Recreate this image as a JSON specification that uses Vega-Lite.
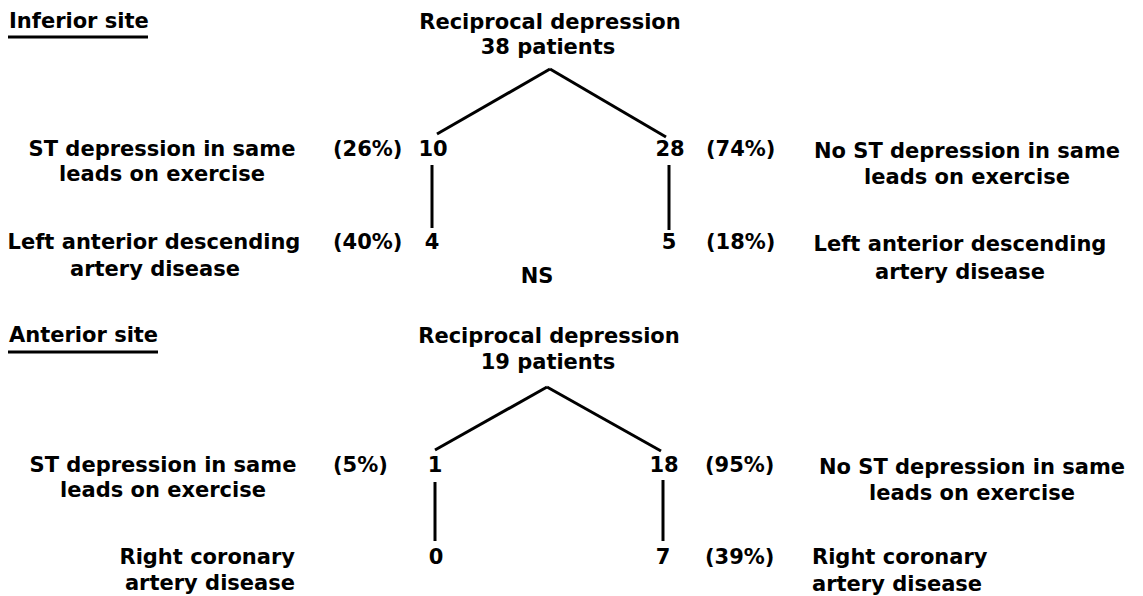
{
  "$schema": "https://vega.github.io/schema/vega-lite/v6.json",
  "width": 1143,
  "height": 596,
  "padding": 0,
  "autosize": {"type": "fit", "contains": "padding"},
  "background": "white",
  "config": {"view": {"stroke": null}, "text": {"font": "DejaVu Sans", "fontWeight": "bold", "fontSize": 21, "color": "black", "baseline": "middle"}},
  "datasets": {
    "labels": [
      {"label": "Inferior site", "x": 9, "y": 22, "anchor": "left"},
      {"label": "Reciprocal depression", "x": 550, "y": 23, "anchor": "center"},
      {"label": "38 patients", "x": 548, "y": 48, "anchor": "center"},
      {"label": "ST depression in same", "x": 162, "y": 150, "anchor": "center"},
      {"label": "leads on exercise", "x": 162, "y": 175, "anchor": "center"},
      {"label": "(26%)", "x": 333, "y": 150, "anchor": "left"},
      {"label": "10", "x": 433, "y": 150, "anchor": "center"},
      {"label": "28", "x": 670, "y": 150, "anchor": "center"},
      {"label": "(74%)", "x": 706, "y": 150, "anchor": "left"},
      {"label": "No ST depression in same", "x": 967, "y": 152, "anchor": "center"},
      {"label": "leads on exercise", "x": 967, "y": 178, "anchor": "center"},
      {"label": "Left anterior descending", "x": 154, "y": 243, "anchor": "center"},
      {"label": "artery disease", "x": 155, "y": 270, "anchor": "center"},
      {"label": "(40%)", "x": 333, "y": 243, "anchor": "left"},
      {"label": "4", "x": 432, "y": 243, "anchor": "center"},
      {"label": "5", "x": 669, "y": 243, "anchor": "center"},
      {"label": "(18%)", "x": 706, "y": 243, "anchor": "left"},
      {"label": "Left anterior descending", "x": 960, "y": 245, "anchor": "center"},
      {"label": "artery disease", "x": 960, "y": 273, "anchor": "center"},
      {"label": "NS", "x": 537, "y": 277, "anchor": "center"},
      {"label": "Anterior site", "x": 9, "y": 336, "anchor": "left"},
      {"label": "Reciprocal depression", "x": 549, "y": 337, "anchor": "center"},
      {"label": "19 patients", "x": 548, "y": 363, "anchor": "center"},
      {"label": "ST depression in same", "x": 163, "y": 466, "anchor": "center"},
      {"label": "leads on exercise", "x": 163, "y": 491, "anchor": "center"},
      {"label": "(5%)", "x": 333, "y": 466, "anchor": "left"},
      {"label": "1", "x": 435, "y": 466, "anchor": "center"},
      {"label": "18", "x": 664, "y": 466, "anchor": "center"},
      {"label": "(95%)", "x": 705, "y": 466, "anchor": "left"},
      {"label": "No ST depression in same", "x": 972, "y": 468, "anchor": "center"},
      {"label": "leads on exercise", "x": 972, "y": 494, "anchor": "center"},
      {"label": "Right coronary", "x": 295, "y": 558, "anchor": "right"},
      {"label": "artery disease", "x": 295, "y": 584, "anchor": "right"},
      {"label": "0", "x": 436, "y": 558, "anchor": "center"},
      {"label": "7", "x": 663, "y": 558, "anchor": "center"},
      {"label": "(39%)", "x": 705, "y": 558, "anchor": "left"},
      {"label": "Right coronary", "x": 812, "y": 558, "anchor": "left"},
      {"label": "artery disease", "x": 812, "y": 585, "anchor": "left"}
    ],
    "links": [
      {"x": 8, "y": 37, "x2": 148, "y2": 37},
      {"x": 550, "y": 69, "x2": 437, "y2": 134},
      {"x": 550, "y": 69, "x2": 666, "y2": 137},
      {"x": 432, "y": 165, "x2": 432, "y2": 228},
      {"x": 669, "y": 165, "x2": 669, "y2": 230},
      {"x": 8, "y": 352, "x2": 158, "y2": 352},
      {"x": 547, "y": 387, "x2": 435, "y2": 450},
      {"x": 547, "y": 387, "x2": 661, "y2": 451},
      {"x": 435, "y": 482, "x2": 435, "y2": 541},
      {"x": 663, "y": 480, "x2": 663, "y2": 541}
    ]
  },
  "layer": [
    {
      "data": {"name": "links"},
      "mark": {"type": "rule", "color": "black", "strokeWidth": 3},
      "encoding": {
        "x": {"field": "x", "type": "quantitative", "scale": {"domain": [0, 1143], "nice": false, "zero": false}, "axis": null},
        "y": {"field": "y", "type": "quantitative", "scale": {"domain": [0, 596], "nice": false, "zero": false, "reverse": true}, "axis": null},
        "x2": {"field": "x2"},
        "y2": {"field": "y2"}
      }
    },
    {
      "data": {"name": "labels"},
      "transform": [{"filter": "datum.anchor === 'left'"}],
      "mark": {"type": "text", "align": "left"},
      "encoding": {
        "x": {"field": "x", "type": "quantitative"},
        "y": {"field": "y", "type": "quantitative"},
        "text": {"field": "label"}
      }
    },
    {
      "data": {"name": "labels"},
      "transform": [{"filter": "datum.anchor === 'center'"}],
      "mark": {"type": "text", "align": "center"},
      "encoding": {
        "x": {"field": "x", "type": "quantitative"},
        "y": {"field": "y", "type": "quantitative"},
        "text": {"field": "label"}
      }
    },
    {
      "data": {"name": "labels"},
      "transform": [{"filter": "datum.anchor === 'right'"}],
      "mark": {"type": "text", "align": "right"},
      "encoding": {
        "x": {"field": "x", "type": "quantitative"},
        "y": {"field": "y", "type": "quantitative"},
        "text": {"field": "label"}
      }
    }
  ]
}
